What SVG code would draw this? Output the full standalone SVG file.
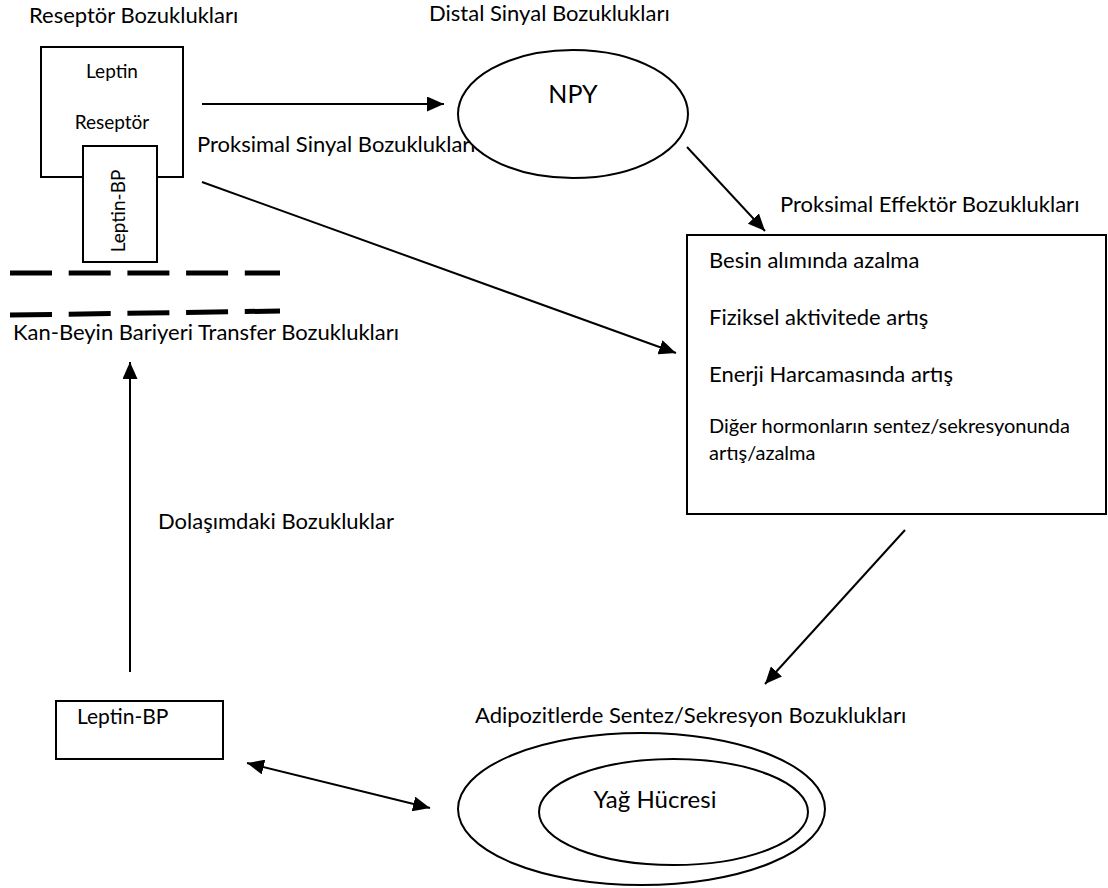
<svg xmlns="http://www.w3.org/2000/svg" width="1108" height="888" viewBox="0 0 1108 888">
<style>
text{font-family:Lato,"Liberation Sans",sans-serif;fill:#000;font-size:22px}
.sm{font-size:19px}
.xs{font-size:20px}
.box{fill:#fff;stroke:#000;stroke-width:2}
.con{stroke:#000;stroke-width:2;fill:none}
.dash{stroke:#000;stroke-width:5;stroke-dasharray:42 16.7;fill:none}
</style>
<defs>
<marker id="ah" markerUnits="userSpaceOnUse" markerWidth="17" markerHeight="15" refX="17" refY="7.5" orient="auto-start-reverse" viewBox="0 0 17 15">
<path d="M0,0 L17,7.5 L0,15 z" fill="#000"/>
</marker>
</defs>
<rect width="1108" height="888" fill="#fff"/>
<g id="labels">
<text x="29" y="23">Reseptör Bozuklukları</text>
<text x="429" y="21">Distal Sinyal Bozuklukları</text>
<text x="197" y="152">Proksimal Sinyal Bozuklukları</text>
<text x="780" y="212">Proksimal Effektör Bozuklukları</text>
<text x="13" y="340">Kan-Beyin Bariyeri Transfer Bozuklukları</text>
<text x="158" y="529">Dolaşımdaki Bozukluklar</text>
<text x="475" y="723">Adipozitlerde Sentez/Sekresyon Bozuklukları</text>
</g>
<g id="receptor">
<rect class="box" x="41" y="47" width="142" height="130"/>
<text class="sm" x="112" y="78" text-anchor="middle">Leptin</text>
<text class="sm" x="112" y="129" text-anchor="middle">Reseptör</text>
</g>
<g id="leptin-bp-top">
<rect class="box" x="83" y="146" width="74" height="116"/>
<text class="sm" transform="translate(125,211) rotate(-90)" text-anchor="middle">Leptin-BP</text>
</g>
<g id="barrier">
<line class="dash" x1="10" y1="273" x2="280" y2="273"/>
<line class="dash" x1="10" y1="315" x2="280" y2="311"/>
</g>
<g id="npy">
<ellipse class="box" cx="573" cy="114" rx="115" ry="64"/>
<text x="573" y="103" text-anchor="middle" style="font-size:25px">NPY</text>
</g>
<g id="effector">
<rect class="box" x="687" y="235" width="419" height="279"/>
<text x="709" y="268">Besin alımında azalma</text>
<text x="709" y="325">Fiziksel aktivitede artış</text>
<text x="709" y="382">Enerji Harcamasında artış</text>
<text class="xs" x="709" y="433">Diğer hormonların sentez/sekresyonunda</text>
<text class="xs" x="709" y="460">artış/azalma</text>
</g>
<g id="leptin-bp-bottom">
<rect class="box" x="56" y="701" width="167" height="58"/>
<text x="77" y="724" style="font-size:21px">Leptin-BP</text>
</g>
<g id="adipocyte">
<ellipse class="box" cx="641.5" cy="809" rx="183.5" ry="76"/>
<ellipse class="box" cx="673.5" cy="812" rx="134.5" ry="53"/>
<text x="655" y="808" text-anchor="middle" style="font-size:24px">Yağ Hücresi</text>
</g>
<g id="connectors">
<line class="con" x1="202" y1="104" x2="444" y2="104" marker-end="url(#ah)"/>
<line class="con" x1="202" y1="182" x2="676" y2="353" marker-end="url(#ah)"/>
<line class="con" x1="687" y1="147" x2="765" y2="231" marker-end="url(#ah)"/>
<line class="con" x1="905" y1="530" x2="765" y2="684" marker-end="url(#ah)"/>
<line class="con" x1="130" y1="672" x2="130" y2="362" marker-end="url(#ah)"/>
<line class="con" x1="247" y1="763" x2="430" y2="808" marker-start="url(#ah)" marker-end="url(#ah)"/>
</g>
</svg>
